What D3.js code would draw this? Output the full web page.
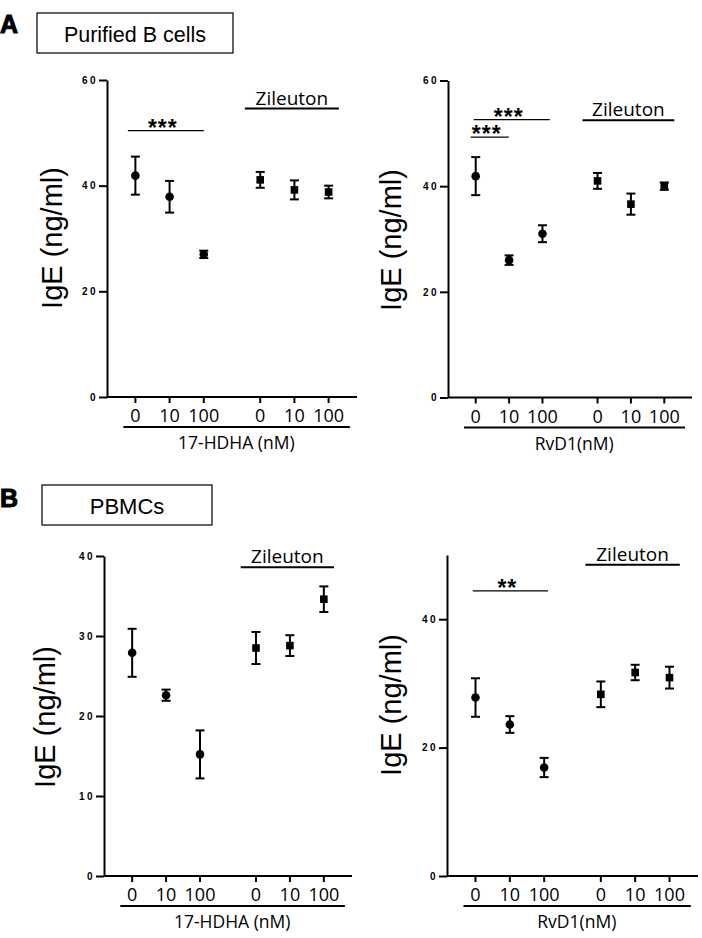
<!DOCTYPE html>
<html>
<head>
<meta charset="utf-8">
<script src="https://cdn.jsdelivr.net/npm/d3@7"></script>
<style>
  body { margin: 0; background: #fff; }
  svg { display: block; }
  .ytick text { font-family: "Liberation Sans", Arial, sans-serif; font-weight: bold; font-size: 10px; letter-spacing: 2.5px; }
  .calib { font-family: "Open Sans", sans-serif; }
</style>
</head>
<body>
<svg id="fig" width="702" height="938"></svg>
<script>
// categories along x (dose in nM), first three without, last three with Zileuton
const doseLabels = ["0", "10", "100", "0", "10", "100"];
const doseSlots = [0, 1, 2, 3.65, 4.65, 5.65];
const markerShapes = ["circle", "circle", "circle", "square", "square", "square"];

// IgE (ng/ml), mean and error
const bCellsHdhaMean = [41.9, 37.9, 27.0, 41.1, 39.2, 38.8];
const bCellsHdhaErr = [3.6, 3.0, 0.7, 1.5, 1.8, 1.2];
const bCellsRvd1Mean = [41.9, 26.0, 31.0, 41.0, 36.6, 40.0];
const bCellsRvd1Err = [3.6, 0.9, 1.6, 1.5, 2.0, 0.7];
const pbmcHdhaMean = [27.9, 22.6, 15.2, 28.5, 28.8, 34.6];
const pbmcHdhaErr = [3.0, 0.7, 3.0, 2.0, 1.3, 1.6];
const pbmcRvd1Mean = [27.8, 23.6, 16.9, 28.3, 31.7, 30.9];
const pbmcRvd1Err = [3.0, 1.3, 1.5, 2.0, 1.2, 1.7];

// y axis ticks
const ticksB60 = [0, 20, 40, 60];
const ticksP40 = [0, 10, 20, 30, 40];
const ticksP50 = [0, 20, 40];

// significance brackets: [from slot, to slot, y value, label]
const bCellsHdhaSig = [[-0.22, 2.0, 50.4, "***"]];
const bCellsRvd1Sig = [[-0.06, 2.22, 52.6, "***"], [-0.15, 0.99, 49.3, "***"]];
const pbmcHdhaSig = [];
const pbmcRvd1Sig = [[-0.08, 2.11, 44.4, "**"]];

const panels = [
    { ax: 107, xEnd: 357, yTop: 80, yBot: 397, max: 60, ticks: ticksB60, mean: bCellsHdhaMean, err: bCellsHdhaErr,
      sig: bCellsHdhaSig, zil: 54.6, group: "17-HDHA (nM)", ytx: 62, yty: 238 },
    { ax: 448, xEnd: 692, yTop: 80.5, yBot: 397.5, max: 60, ticks: ticksB60, mean: bCellsRvd1Mean, err: bCellsRvd1Err,
      sig: bCellsRvd1Sig, zil: 52.5, group: "RvD1(nM)", ytx: 401, yty: 240 },
    { ax: 104, xEnd: 352, yTop: 556, yBot: 876, max: 40, ticks: ticksP40, mean: pbmcHdhaMean, err: pbmcHdhaErr,
      sig: pbmcHdhaSig, zil: 38.6, group: "17-HDHA (nM)", ytx: 55, yty: 717 },
    { ax: 447, xEnd: 698, yTop: 555, yBot: 876, max: 50, ticks: ticksP50, mean: pbmcRvd1Mean, err: pbmcRvd1Err,
      sig: pbmcRvd1Sig, zil: 48.5, group: "RvD1(nM)", ytx: 401, yty: 705 }
];

const svg = d3.select("#fig");

// panel letters and title boxes
const heads = [
    { letter: "A", ly: 33, box: [37, 13, 196, 40], title: "Purified B cells", ty: 41.5, fs: 21.5 },
    { letter: "B", ly: 507, box: [42, 485, 170, 40], title: "PBMCs", ty: 514, fs: 22 }
];
heads.forEach(h => {
    svg.append("text").attr("x", 0).attr("y", h.ly)
        .attr("font-family", "Liberation Sans, Arial, sans-serif").attr("font-weight", "bold")
        .attr("font-size", 25).attr("stroke", "#000").attr("stroke-width", 1).text(h.letter);
    svg.append("rect").attr("x", h.box[0]).attr("y", h.box[1]).attr("width", h.box[2]).attr("height", h.box[3])
        .attr("fill", "none").attr("stroke", "#111").attr("stroke-width", 1.3);
    svg.append("text").attr("x", h.box[0] + h.box[2] / 2).attr("y", h.ty).attr("text-anchor", "middle")
        .attr("font-family", "Liberation Sans, Arial, sans-serif").attr("font-size", h.fs).text(h.title);
});

panels.forEach(p => {
    const x = d3.scaleLinear().domain([-0.83, 6.48]).range([p.ax, p.xEnd]);
    const y = d3.scaleLinear().domain([0, p.max]).range([p.yBot, p.yTop]);
    const g = svg.append("g");

    // y axis
    g.append("g").attr("class", "ytick")
        .attr("transform", `translate(${p.ax},0)`)
        .call(d3.axisLeft(y).tickValues(p.ticks).tickFormat(d3.format("d")).tickSize(8).tickSizeOuter(0).tickPadding(1))
        .call(a => a.select(".domain").attr("stroke-width", 2))
        .call(a => a.selectAll(".tick line").attr("stroke-width", 2));

    // x axis
    const xa = g.append("g").attr("transform", `translate(0,${p.yBot})`);
    xa.append("line").attr("x1", p.ax).attr("x2", p.xEnd).attr("stroke", "#000").attr("stroke-width", 2);
    xa.selectAll(".xt").data(doseSlots).join("line")
        .attr("x1", d => x(d)).attr("x2", d => x(d)).attr("y1", 0).attr("y2", 6)
        .attr("stroke", "#000").attr("stroke-width", 2);
    xa.selectAll(".xl").data(doseLabels).join("text").attr("class", "calib")
        .attr("x", (d, i) => x(doseSlots[i])).attr("y", 25).attr("text-anchor", "middle")
        .attr("font-size", 18).text(d => d);
    xa.append("line").attr("x1", x(-0.35)).attr("x2", x(6.27)).attr("y1", 30).attr("y2", 30)
        .attr("stroke", "#000").attr("stroke-width", 2);
    xa.append("text").attr("class", "calib").attr("x", x(2.95)).attr("y", 52).attr("text-anchor", "middle")
        .attr("font-size", 17.5).text(p.group);

    // y title
    g.append("text").attr("transform", `translate(${p.ytx},${p.yty}) rotate(-90)`)
        .attr("text-anchor", "middle").attr("font-family", "Liberation Sans, Arial, sans-serif")
        .attr("font-size", 29).text("IgE (ng/ml)");

    // Zileuton bar
    g.append("line").attr("x1", x(3.2)).attr("x2", x(5.95)).attr("y1", y(p.zil)).attr("y2", y(p.zil))
        .attr("stroke", "#000").attr("stroke-width", 2);
    g.append("text").attr("class", "calib").attr("x", x(4.575)).attr("y", y(p.zil) - 4)
        .attr("text-anchor", "middle").attr("font-size", 19).text("Zileuton");

    // significance
    p.sig.forEach(s => {
        g.append("line").attr("x1", x(s[0])).attr("x2", x(s[1])).attr("y1", y(s[2])).attr("y2", y(s[2]))
            .attr("stroke", "#000").attr("stroke-width", 1.3);
        g.append("text").attr("x", (x(s[0]) + x(s[1])) / 2 - 3).attr("y", y(s[2]) + 5)
            .attr("text-anchor", "middle").attr("font-family", "Liberation Sans, Arial, sans-serif")
            .attr("font-weight", "bold").attr("font-size", 23).attr("letter-spacing", 1).text(s[3]);
    });

    // error bars
    const pts = p.mean.map((m, i) => ({ s: doseSlots[i], m, e: p.err[i], shape: markerShapes[i] }));
    const eb = g.append("g").attr("stroke", "#000").attr("stroke-width", 2);
    pts.forEach(d => {
        const cx = x(d.s);
        eb.append("line").attr("x1", cx).attr("x2", cx).attr("y1", y(d.m - d.e)).attr("y2", y(d.m + d.e));
        eb.append("line").attr("x1", cx - 4.5).attr("x2", cx + 4.5).attr("y1", y(d.m + d.e)).attr("y2", y(d.m + d.e));
        eb.append("line").attr("x1", cx - 4.5).attr("x2", cx + 4.5).attr("y1", y(d.m - d.e)).attr("y2", y(d.m - d.e));
    });

    // markers
    g.selectAll(".dot").data(pts.filter(d => d.shape === "circle")).join("circle")
        .attr("cx", d => x(d.s)).attr("cy", d => y(d.m)).attr("r", 4.3).attr("fill", "#000");
    g.selectAll(".sq").data(pts.filter(d => d.shape === "square")).join("rect")
        .attr("x", d => x(d.s) - 3.8).attr("y", d => y(d.m) - 3.8).attr("width", 7.6).attr("height", 7.6)
        .attr("fill", "#000");
});
</script>
</body>
</html>
